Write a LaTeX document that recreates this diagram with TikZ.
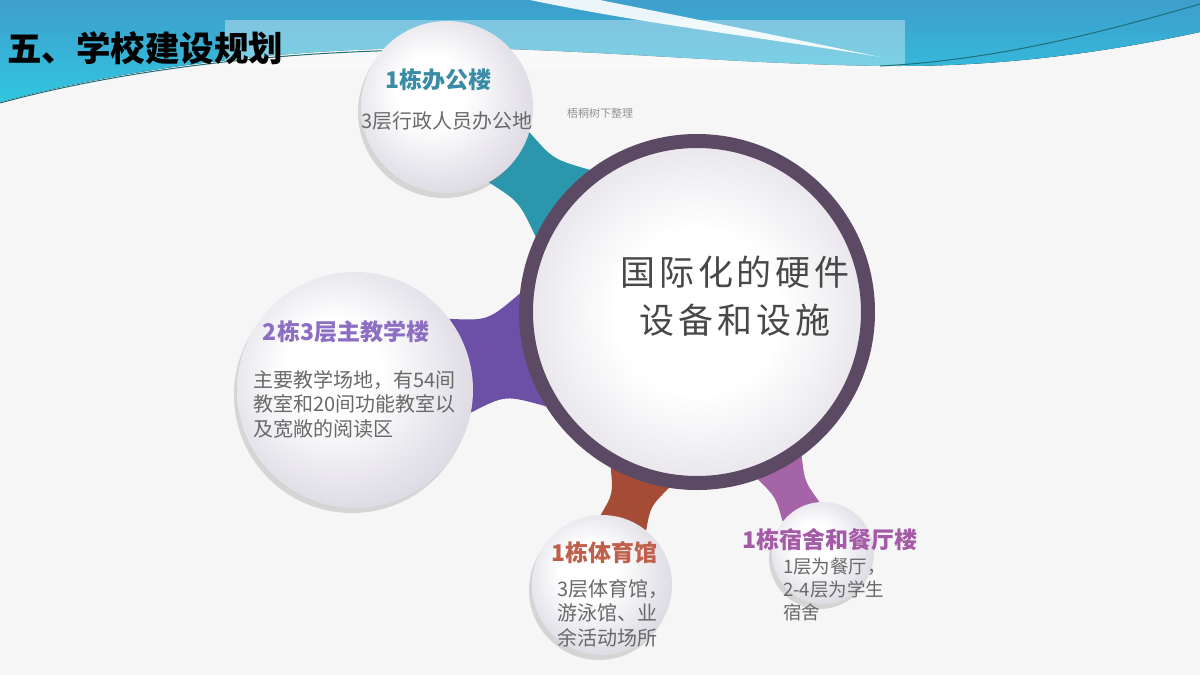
\documentclass[tikz,border=0pt]{standalone}
\usepackage{fontspec}
\setmainfont{Noto Sans CJK SC}
\usetikzlibrary{calc,shadows,backgrounds}

\definecolor{sfondo}{RGB}{246,246,246}
\definecolor{bandaAlta}{RGB}{62,158,204}
\definecolor{bandaBassa}{RGB}{48,198,224}
\definecolor{lineaBanda}{RGB}{30,110,120}
\definecolor{anello}{RGB}{92,74,101}
\definecolor{bordoSat}{RGB}{222,219,228}
\definecolor{bordoHub}{RGB}{232,230,235}
\definecolor{testoGrigio}{RGB}{105,105,105}
\definecolor{testoCentro}{RGB}{72,72,72}
\definecolor{tealScuro}{RGB}{43,151,172}
\definecolor{tealTitolo}{RGB}{58,140,166}
\definecolor{viola}{RGB}{107,80,166}
\definecolor{violaTitolo}{RGB}{140,110,195}
\definecolor{mattone}{RGB}{165,76,55}
\definecolor{mattoneTitolo}{RGB}{192,96,74}
\definecolor{malva}{RGB}{166,100,168}
\definecolor{malvaTitolo}{RGB}{165,90,168}

\pgfdeclareradialshading{palla}{\pgfpoint{-6bp}{6bp}}{color(0bp)=(white); color(10bp)=(white); color(28bp)=(bordoSat); color(50bp)=(bordoSat)}
\pgfdeclareradialshading{pallaCentro}{\pgfpointorigin}{color(0bp)=(white); color(12bp)=(white); color(25bp)=(bordoHub); color(50bp)=(bordoHub)}

% collo tra un cerchio satellite e il cerchio centrale
\newcommand{\collo}[6]{%
  \pgfmathtruncatemacro{\angSa}{#4+#5}%
  \pgfmathtruncatemacro{\angSb}{#4-#5}%
  \pgfmathtruncatemacro{\angHm}{#4+180}%
  \pgfmathtruncatemacro{\angHa}{#4+180-#6}%
  \pgfmathtruncatemacro{\angHb}{#4+180+#6}%
  \coordinate (gm) at ($(#1.#4)!0.5!(#2.\angHm)$);
  \fill[#3] (#1.\angSa) .. controls ($(gm)!0.72!($(#1.\angSa)!0.5!(#2.\angHa)$)$) .. (#2.\angHa)
    -- (#2.\angHb) .. controls ($(gm)!0.72!($(#1.\angSb)!0.5!(#2.\angHb)$)$) .. (#1.\angSb) -- cycle;}

\tikzset{
  mozzo/.style={circle, minimum size=342pt, inner sep=0pt, draw=anello, line width=14pt,
    shade, shading=pallaCentro, drop shadow={shadow xshift=-2pt, shadow yshift=-4pt, opacity=.25}},
  satellite/.style={circle, minimum size=#1, inner sep=0pt, shade, shading=palla,
    drop shadow={shadow xshift=-3pt, shadow yshift=-5pt, opacity=.28}},
  intestazione/.style={text=black, font=\fontsize{34.5}{40}\selectfont\bfseries, inner sep=0pt, anchor=west},
  etichetta/.style={text=#1, font=\fontsize{23}{27}\selectfont\bfseries, inner sep=0pt},
  corpo/.style={text=testoGrigio, font=\fontsize{20}{24.5}\selectfont, align=left, inner sep=0pt, anchor=north west},
  centro/.style={text=testoCentro, font=\fontsize{35}{48}\selectfont\addfontfeature{LetterSpace=11}, align=center, inner sep=0pt},
}

\begin{document}
\begin{tikzpicture}[x=1pt,y=-1pt]
    \useasboundingbox (0,0) rectangle (1200,675);

    % Disegna il cerchio centrale
    \node[mozzo] (hub) at (697,312) {};

    % Disegna i cerchi satelliti
    \node[satellite=172pt] (uffici) at (447,107) {};
    \node[satellite=236pt] (aule) at (355,390) {};
    \node[satellite=140pt] (palestra) at (602,585) {};
    \node[satellite=102pt] (dormitorio) at (823,553) {};

    % Titolo della pagina
    \node[intestazione] (pagina) at (7,48) {五、学校建设规划};
    \node[text=gray!85, font=\fontsize{11}{13}\selectfont, inner sep=0pt] (firma) at (600,113) {梧桐树下整理};

    % Testo centrale
    \node[centro] (hubT) at (735,296) {国际化的硬件\\设备和设施};

    % Testi dei satelliti
    \node[etichetta=tealTitolo] (ufficiT) at (438,80) {1栋办公楼};
    \node[corpo, anchor=center] (ufficiC) at (447,121) {3层行政人员办公地};

    \node[etichetta=violaTitolo] (auleT) at (346,332) {2栋3层主教学楼};
    \node[corpo] (auleC) at (253,370) {主要教学场地，有54间\\教室和20间功能教室以\\及宽敞的阅读区};

    \node[etichetta=mattoneTitolo] (palestraT) at (604,553) {1栋体育馆};
    \node[corpo] (palestraC) at (557,579) {3层体育馆，\\游泳馆、业\\余活动场所};

    \node[etichetta=malvaTitolo] (dormT) at (830,540) {1栋宿舍和餐厅楼};
    \node[corpo, font=\fontsize{18.5}{23}\selectfont] (dormC) at (783,558) {1层为餐厅，\\2-4层为学生\\宿舍};

    \begin{pgfonlayer}{background}
        % Sfondo e fascia azzurra in alto
        \fill[sfondo] (0,0) rectangle (1200,675);
        \fill[top color=bandaAlta, bottom color=bandaBassa] (0,0) -- (1200,0) -- (1200,32)
            .. controls (1080,58) and (980,66) .. (900,66)
            .. controls (750,66) and (560,46) .. (420,48)
            .. controls (260,50) and (110,72) .. (0,102) -- cycle;
        \fill[white, opacity=.9] (530,0) .. controls (650,25) and (780,40) .. (880,57)
            .. controls (780,36) and (680,16) .. (600,0) -- cycle;
        \fill[white, opacity=.35] (225,20) rectangle (905,68);
        \draw[lineaBanda, line width=1pt] (0,103) .. controls (110,73) and (260,52) .. (420,50);
        \draw[lineaBanda, line width=1pt] (880,66) .. controls (1000,60) and (1110,30) .. (1200,4);

        % Colli tra i cerchi
        \collo{uffici}{hub}{tealScuro}{-39}{22}{14}
        \collo{aule}{hub}{viola}{13}{24}{19}
        \collo{palestra}{hub}{mattone}{71}{20}{10}
        \collo{dormitorio}{hub}{malva}{118}{24}{8}
    \end{pgfonlayer}
\end{tikzpicture}
\end{document}
